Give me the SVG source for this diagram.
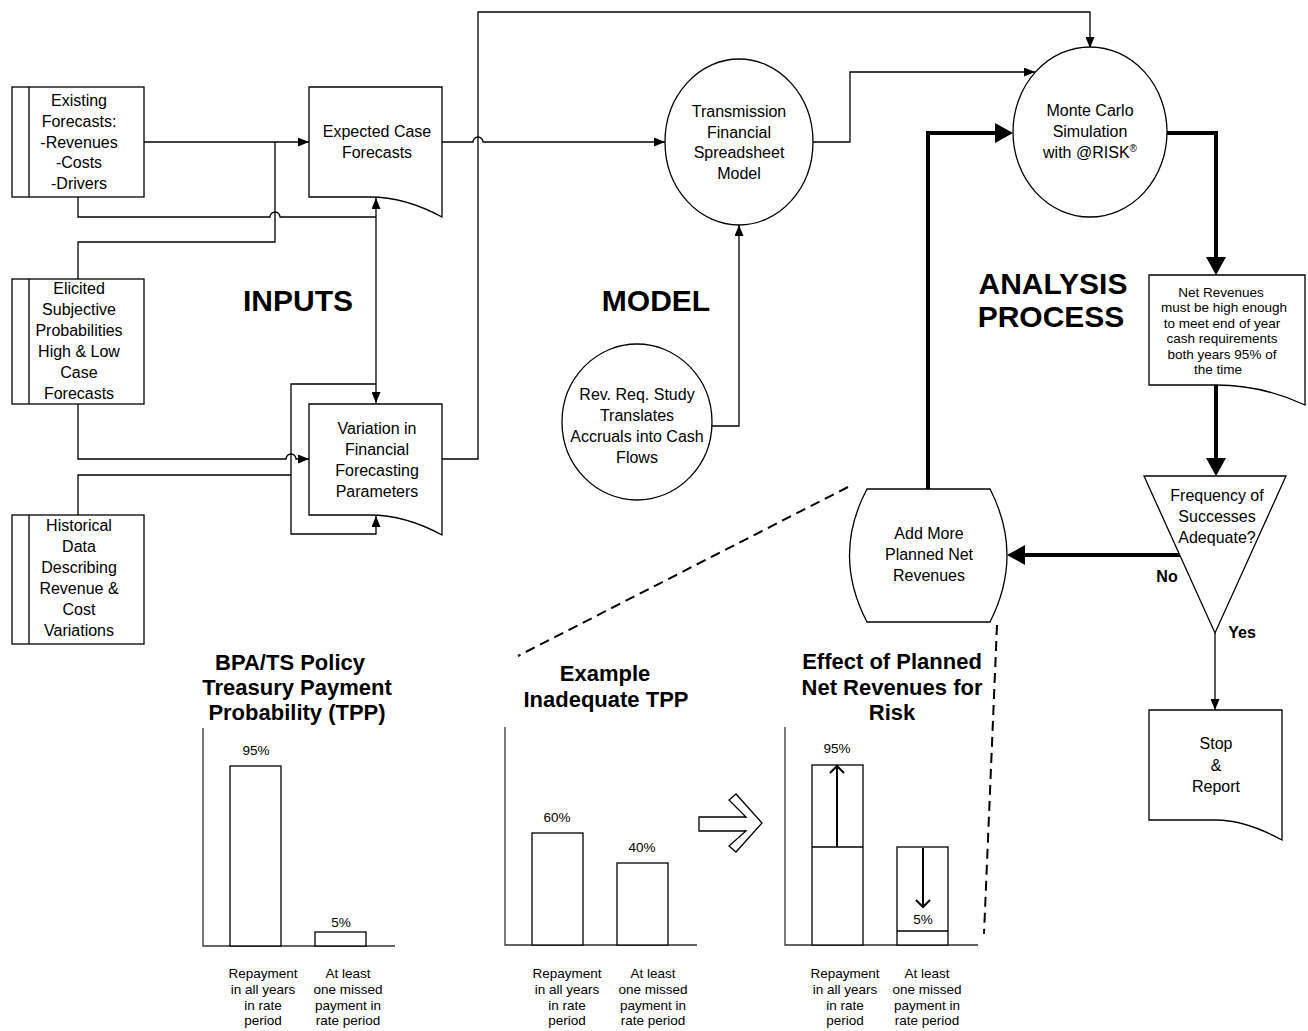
<svg xmlns="http://www.w3.org/2000/svg" width="1308" height="1031" viewBox="0 0 1308 1031">
<style>
text{font-family:"Liberation Sans",Arial,sans-serif;fill:#000;text-anchor:middle}
.t16{font-size:16px}
.t13{font-size:13.5px}
.big{font-size:30px;font-weight:bold}
.ttl{font-size:22px;font-weight:bold}
.lbl{font-size:16px;font-weight:bold}
.shape{fill:#fff;stroke:#000;stroke-width:1.3}
.thin{fill:none;stroke:#000;stroke-width:1.3}
.thick{fill:none;stroke:#000;stroke-width:4}
.dash{fill:none;stroke:#000;stroke-width:2;stroke-dasharray:10 6}
.bar{fill:#fff;stroke:#000;stroke-width:1.3}
.axis{fill:none;stroke:#333;stroke-width:1.3}
.ar{fill:none;stroke:#000;stroke-width:2}
</style>
<defs>
<marker id="a" viewBox="0 0 11 9" refX="11" refY="4.5" markerWidth="11" markerHeight="9" orient="auto-start-reverse" markerUnits="userSpaceOnUse"><path d="M0,0 L11,4.5 L0,9 Z" fill="#000"/></marker>
<marker id="A" viewBox="0 0 18 20" refX="0" refY="10" markerWidth="18" markerHeight="20" orient="auto" markerUnits="userSpaceOnUse"><path d="M0,0 L18,10 L0,20 Z" fill="#000"/></marker>
</defs>
<rect width="1308" height="1031" fill="#fff"/>

<g id="connectors">
<path class="thin" d="M144,142 H309" marker-end="url(#a)"/>
<path class="thin" d="M78,197 V217 H270 A5,5 0 0 1 280,217 H376"/>
<path class="thin" d="M78,279 V242 H275 V142"/>
<path class="thin" d="M376,198 V403" marker-start="url(#a)" marker-end="url(#a)"/>
<path class="thin" d="M376,384 H291 V534 H376 V516" marker-end="url(#a)"/>
<path class="thin" d="M78,515 V475 H291"/>
<path class="thin" d="M78,404 V459 H286 A5,5 0 0 1 296,459 H309" marker-end="url(#a)"/>
<path class="thin" d="M442,459 H478 V12 H1090 V48" marker-end="url(#a)"/>
<path class="thin" d="M442,142 H473 A5,5 0 0 1 483,142 H665" marker-end="url(#a)"/>
<path class="thin" d="M813,142 H850 V72 H1035" marker-end="url(#a)"/>
<path class="thin" d="M712,426 H739 V225" marker-end="url(#a)"/>
<path class="thin" d="M1215,633 V710" marker-end="url(#a)"/>
<path class="thick" d="M928,489 V133 H995" marker-end="url(#A)"/>
<path class="thick" d="M1167,133 H1216 V257" marker-end="url(#A)"/>
<path class="thick" d="M1216,385 V458" marker-end="url(#A)"/>
<path class="thick" d="M1180,555 H1025" marker-end="url(#A)"/>
<path class="dash" d="M848,487 L518,656"/>
<path class="dash" d="M997,625 L984,934"/>
</g>

<g id="existing-forecasts">
<rect class="shape" x="12" y="87" width="132" height="110"/>
<line class="thin" x1="29" y1="87" x2="29" y2="197"/>
<text class="t16"><tspan x="79" y="106">Existing</tspan><tspan x="79" y="127">Forecasts:</tspan><tspan x="79" y="148">-Revenues</tspan><tspan x="79" y="168">-Costs</tspan><tspan x="79" y="189">-Drivers</tspan></text>
</g>

<g id="elicited">
<rect class="shape" x="12" y="279" width="132" height="125"/>
<line class="thin" x1="29" y1="279" x2="29" y2="404"/>
<text class="t16"><tspan x="79" y="294">Elicited</tspan><tspan x="79" y="315">Subjective</tspan><tspan x="79" y="336">Probabilities</tspan><tspan x="79" y="357">High &amp; Low</tspan><tspan x="79" y="378">Case</tspan><tspan x="79" y="399">Forecasts</tspan></text>
</g>

<g id="historical">
<rect class="shape" x="12" y="515" width="132" height="129"/>
<line class="thin" x1="29" y1="515" x2="29" y2="644"/>
<text class="t16"><tspan x="79" y="531">Historical</tspan><tspan x="79" y="552">Data</tspan><tspan x="79" y="573">Describing</tspan><tspan x="79" y="594">Revenue &amp;</tspan><tspan x="79" y="615">Cost</tspan><tspan x="79" y="636">Variations</tspan></text>
</g>

<g id="expected-case">
<path class="shape" d="M309,87 H442 V217 C418,204 396,197 370,197 H309 Z"/>
<text class="t16"><tspan x="377" y="137">Expected Case</tspan><tspan x="377" y="158">Forecasts</tspan></text>
</g>

<g id="variation">
<path class="shape" d="M309,404 H442 V535 C418,522 396,515 370,515 H309 Z"/>
<text class="t16"><tspan x="377" y="434">Variation in</tspan><tspan x="377" y="455">Financial</tspan><tspan x="377" y="476">Forecasting</tspan><tspan x="377" y="497">Parameters</tspan></text>
</g>

<g id="transmission-model">
<ellipse class="shape" cx="739" cy="142" rx="74" ry="83"/>
<text class="t16"><tspan x="739" y="117">Transmission</tspan><tspan x="739" y="138">Financial</tspan><tspan x="739" y="158">Spreadsheet</tspan><tspan x="739" y="179">Model</tspan></text>
</g>

<g id="rev-req-study">
<ellipse class="shape" cx="637" cy="422" rx="75" ry="78"/>
<text class="t16"><tspan x="637" y="400">Rev. Req. Study</tspan><tspan x="637" y="421">Translates</tspan><tspan x="637" y="442">Accruals into Cash</tspan><tspan x="637" y="463">Flows</tspan></text>
</g>

<g id="monte-carlo">
<ellipse class="shape" cx="1090" cy="132" rx="77" ry="85"/>
<text class="t16"><tspan x="1090" y="116">Monte Carlo</tspan><tspan x="1090" y="137">Simulation</tspan><tspan x="1090" y="158">with @RISK<tspan font-size="10" dy="-6">®</tspan></tspan></text>
</g>

<g id="net-revenues">
<path class="shape" d="M1149,275 H1305 V405 C1275,391 1248,385 1216,385 H1149 Z"/>
<text class="t13"><tspan x="1221" y="297">Net Revenues</tspan><tspan x="1224" y="312">must be high enough</tspan><tspan x="1222" y="328">to meet end of year</tspan><tspan x="1222" y="343">cash requirements</tspan><tspan x="1222" y="359">both years 95% of</tspan><tspan x="1218" y="374">the time</tspan></text>
</g>

<g id="frequency-decision">
<polygon class="shape" points="1144,476 1286,476 1215,633"/>
<text class="t16"><tspan x="1217" y="501">Frequency of</tspan><tspan x="1217" y="522">Successes</tspan><tspan x="1217" y="543">Adequate?</tspan></text>
</g>

<g id="add-more">
<path class="shape" d="M867,489 H990 Q1024,555 990,622 H867 Q832,555 867,489 Z"/>
<text class="t16"><tspan x="929" y="539">Add More</tspan><tspan x="929" y="560">Planned Net</tspan><tspan x="929" y="581">Revenues</tspan></text>
</g>

<g id="stop-report">
<path class="shape" d="M1149,710 H1282 V840 C1258,827 1238,820 1216,820 H1149 Z"/>
<text class="t16"><tspan x="1216" y="749">Stop</tspan><tspan x="1216" y="771">&amp;</tspan><tspan x="1216" y="792">Report</tspan></text>
</g>

<g id="labels">
<text class="big" x="298" y="311">INPUTS</text>
<text class="big" x="656" y="311">MODEL</text>
<text class="big" x="1053" y="294">ANALYSIS</text>
<text class="big" x="1051" y="327">PROCESS</text>
<text class="lbl" x="1167" y="582">No</text>
<text class="lbl" x="1242" y="638">Yes</text>
</g>

<g id="chart-policy">
<text class="ttl"><tspan x="290" y="670">BPA/TS Policy</tspan><tspan x="297" y="695">Treasury Payment</tspan><tspan x="297" y="720">Probability (TPP)</tspan></text>
<path class="axis" d="M203,728 V946 H395"/>
<rect class="bar" x="230" y="766" width="51" height="180"/>
<rect class="bar" x="315" y="932" width="51" height="14"/>
<text class="t13" x="256" y="755">95%</text>
<text class="t13" x="341" y="927">5%</text>
<text class="t13"><tspan x="263" y="978">Repayment</tspan><tspan x="263" y="994">in all years</tspan><tspan x="263" y="1010">in rate</tspan><tspan x="263" y="1025">period</tspan></text>
<text class="t13"><tspan x="348" y="978">At least</tspan><tspan x="348" y="994">one missed</tspan><tspan x="348" y="1010">payment in</tspan><tspan x="348" y="1025">rate period</tspan></text>
</g>

<g id="chart-inadequate">
<text class="ttl"><tspan x="605" y="681">Example</tspan><tspan x="606" y="707">Inadequate TPP</tspan></text>
<path class="axis" d="M505,727 V945 H697"/>
<rect class="bar" x="532" y="833" width="51" height="112"/>
<rect class="bar" x="617" y="863" width="51" height="82"/>
<text class="t13" x="557" y="822">60%</text>
<text class="t13" x="642" y="852">40%</text>
<text class="t13"><tspan x="567" y="978">Repayment</tspan><tspan x="567" y="994">in all years</tspan><tspan x="567" y="1010">in rate</tspan><tspan x="567" y="1025">period</tspan></text>
<text class="t13"><tspan x="653" y="978">At least</tspan><tspan x="653" y="994">one missed</tspan><tspan x="653" y="1010">payment in</tspan><tspan x="653" y="1025">rate period</tspan></text>
</g>

<g id="block-arrow">
<polygon class="shape" points="699,817 746,817 729,800 736,794 762,823 736,852 729,846 746,831 699,831"/>
</g>

<g id="chart-effect">
<text class="ttl"><tspan x="892" y="669">Effect of Planned</tspan><tspan x="892" y="695">Net Revenues for</tspan><tspan x="892" y="720">Risk</tspan></text>
<path class="axis" d="M785,727 V945 H978"/>
<rect class="bar" x="812" y="765" width="51" height="180"/>
<line class="thin" x1="812" y1="847" x2="863" y2="847"/>
<rect class="bar" x="897" y="847" width="51" height="98"/>
<line class="thin" x1="897" y1="931" x2="948" y2="931"/>
<path class="ar" d="M837,847 V767 M830,773 L837,766 L844,773"/>
<path class="ar" d="M923,848 V906 M916,900 L923,907 L930,900"/>
<text class="t13" x="837" y="753">95%</text>
<text class="t13" x="923" y="924">5%</text>
<text class="t13"><tspan x="845" y="978">Repayment</tspan><tspan x="845" y="994">in all years</tspan><tspan x="845" y="1010">in rate</tspan><tspan x="845" y="1025">period</tspan></text>
<text class="t13"><tspan x="927" y="978">At least</tspan><tspan x="927" y="994">one missed</tspan><tspan x="927" y="1010">payment in</tspan><tspan x="927" y="1025">rate period</tspan></text>
</g>
</svg>
